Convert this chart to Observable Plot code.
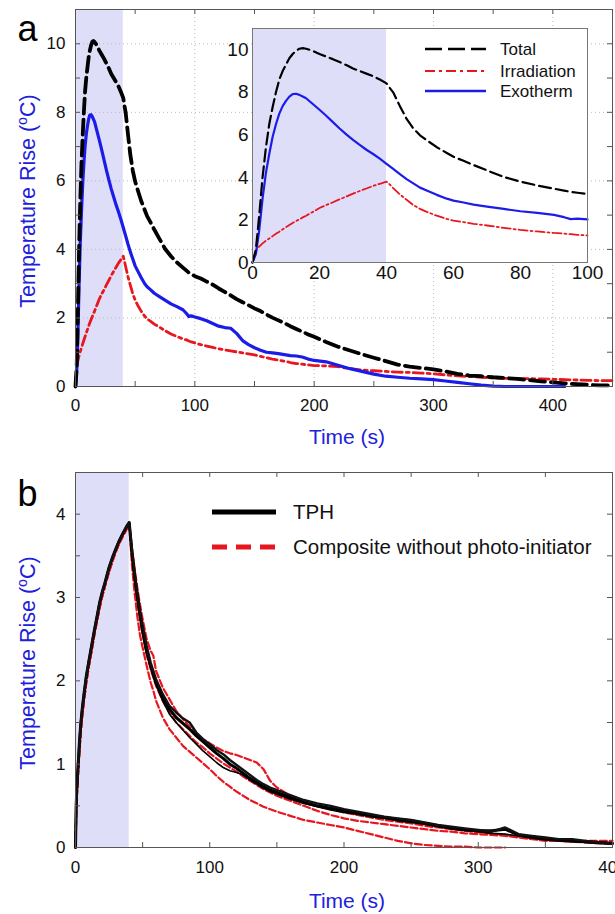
<!DOCTYPE html>
<html><head><meta charset="utf-8">
<script src="https://cdn.jsdelivr.net/npm/d3@7"></script>
<script src="https://cdn.jsdelivr.net/npm/@observablehq/plot@0.6"></script>
<style>
body{margin:0;background:#fff;}
#wrap{position:relative;width:615px;height:914px;overflow:hidden;background:#fff;}
#wrap svg{position:absolute;overflow:visible;max-width:none;}
</style></head>
<body><div id="wrap"></div>
<script>
// ---------- Panel a data ----------
const tA = [0,1,2,3,4,5,6,7,8,9,10,11,12,13,14,15,16,18,20,22,24,26,28,30,32,34,36,38,40,41,42,44,46,48,50,52,55,58,60,63,66,70,75,80,85,90,93,95,97,100,105,110,115,120,125,130,135,140,145,150,155,160,165,170,175,180,185,190,195,200,210,220,230,240,250,260,270,280,290,300,310,320,330,340,350,360,370,380,390,400,410,420,430,440,450];
const totalA = [0,0.6,2.2,4.0,5.4,6.5,7.3,8.0,8.6,9.0,9.3,9.6,9.8,9.95,10.05,10.08,10.05,
  9.95,9.8,9.68,9.56,9.42,9.28,9.12,9.0,8.88,8.76,8.6,8.42,
  8.2,8.0,7.35,6.75,6.3,5.98,5.75,5.42,5.15,4.97,4.78,4.58,4.33,4.02,3.8,3.62,3.47,3.38,3.32,3.28,3.22,
  3.15,3.06,2.97,2.86,2.76,2.66,2.55,2.46,2.37,2.28,2.2,2.1,2.01,1.93,1.85,1.76,1.68,1.6,1.52,1.45,
  1.3,1.16,1.05,0.94,0.84,0.74,0.64,0.58,0.54,0.5,0.44,0.37,0.32,0.3,0.27,0.25,0.22,0.19,0.15,0.12,0.09,0.07,0.05,0.03,0.03];
const irradA = [0,0.55,0.75,0.9,1.02,1.13,1.24,1.35,1.45,1.56,1.66,1.76,1.86,1.95,2.03,2.12,2.2,
  2.38,2.56,2.7,2.83,2.97,3.1,3.24,3.36,3.48,3.6,3.7,3.8,
  3.66,3.5,3.2,2.95,2.7,2.52,2.38,2.2,2.05,1.97,1.9,1.82,1.74,1.63,1.53,1.46,1.39,1.36,1.33,1.3,1.27,
  1.22,1.18,1.14,1.1,1.07,1.04,1.01,0.98,0.95,0.92,0.88,0.84,0.8,0.77,0.74,0.7,0.67,0.65,0.63,0.61,
  0.6,0.58,0.52,0.48,0.46,0.44,0.42,0.41,0.39,0.37,0.34,0.31,0.29,0.27,0.25,0.24,0.23,0.23,0.22,0.21,0.2,0.19,0.18,0.17,0.17];
const exoA = [0,0.4,1.5,3.0,4.2,5.1,5.9,6.5,7.0,7.35,7.6,7.8,7.92,7.93,7.88,7.8,7.72,
  7.45,7.18,6.9,6.6,6.3,6.02,5.76,5.53,5.3,5.1,4.88,4.64,
  4.52,4.4,4.15,3.92,3.72,3.52,3.38,3.18,3.0,2.91,2.82,2.72,2.63,2.52,2.41,2.33,2.24,2.13,2.04,2.06,2.03,
  1.98,1.92,1.84,1.76,1.72,1.7,1.55,1.34,1.22,1.13,1.06,1.0,0.98,0.96,0.93,0.9,0.89,0.86,0.8,0.76,
  0.72,0.62,0.52,0.44,0.36,0.3,0.27,0.24,0.22,0.2,0.16,0.12,0.08,0.04,0.01,0,0,0,0,0,0,null,null,null,null];
const seriesNamesA = ["Total","Irradiation","Exotherm"];
const irradWindow = [{x1:0, x2:40}];
const xDomainA = [0,450], yDomainA = [0,11];
const xTickA = [0,50,100,150,200,250,300,350,400,450];
const xLabelA = [0,100,200,300,400];
const yTickA = [0,1,2,3,4,5,6,7,8,9,10,11];
const yLabelA = [0,2,4,6,8,10];
const xGridA = [100,200,300,400];
const yGridA = [2,4,6,8,10];
// inset
const xDomainIn = [0,100], yDomainIn = [0,11];
const xLabelIn = [0,20,40,60,80,100];
const yLabelIn = [0,2,4,6,8,10];

// ---------- Panel b data ----------
const tRiseB = [0,0.5,1,2,3,4,5,6,8,10,12,14,16,18,20,22,25,28,30,32,35,38,40];
const tDecayB = [42,44,46,48,50,53,56,58,60,65,70,75,80,85,90,95,100,105,110,115,120,125,130,135,140,145,150,160,170,180,190,200,210,220,230,240,250,260,270,280,290,300,310,320,330,340,350,360,370,380,390,400];
const riseTPH = [0,0.5,0.72,1.0,1.28,1.5,1.66,1.8,2.05,2.24,2.42,2.6,2.77,2.94,3.07,3.18,3.36,3.5,3.58,3.66,3.76,3.85,3.9];
const riseComp = [0,0.4,0.62,0.92,1.18,1.4,1.58,1.72,1.98,2.18,2.36,2.55,2.72,2.88,3.02,3.14,3.31,3.46,3.55,3.63,3.73,3.82,3.88];
const tph1Decay = [3.55,3.26,3.02,2.8,2.6,2.35,2.18,2.08,1.98,1.8,1.66,1.56,1.49,1.42,1.34,1.27,1.2,1.13,1.07,1.0,0.95,0.89,0.83,0.78,0.73,0.69,0.66,0.6,0.54,0.5,0.47,0.44,0.41,0.38,0.36,0.34,0.32,0.29,0.26,0.23,0.21,0.2,0.2,0.22,0.15,0.12,0.1,0.09,0.08,0.07,0.06,0.05];
const tph2Decay = [3.5,3.22,2.98,2.77,2.57,2.33,2.15,2.05,1.95,1.76,1.6,1.5,1.41,1.32,1.24,1.16,1.09,1.02,0.96,0.92,0.9,0.87,0.81,0.76,0.71,0.67,0.64,0.58,0.53,0.49,0.45,0.42,0.4,0.37,0.35,0.32,0.3,0.28,0.25,0.23,0.21,0.19,0.17,0.16,0.14,0.12,0.1,0.08,0.07,0.06,0.05,0.04];
const tph3Decay = [3.58,3.3,3.06,2.85,2.66,2.42,2.22,2.12,2.02,1.84,1.7,1.62,1.55,1.5,1.38,1.3,1.24,1.17,1.12,1.05,0.99,0.93,0.87,0.81,0.76,0.72,0.69,0.63,0.57,0.53,0.5,0.46,0.43,0.4,0.37,0.35,0.33,0.3,0.27,0.25,0.23,0.21,0.19,0.24,0.16,0.14,0.12,0.1,0.1,0.08,0.06,0.05];
const comp1Decay = [3.4,3.06,2.78,2.55,2.4,2.18,1.98,1.88,1.76,1.56,1.42,1.32,1.22,1.15,1.08,1.01,0.94,0.86,0.79,0.73,0.67,0.62,0.57,0.53,0.49,0.46,0.43,0.38,0.33,0.3,0.27,0.24,0.2,0.16,0.12,0.08,0.05,0.03,0.02,0.01,0.01,0,0,0,null,null,null,null,null,null,null,null];
const comp2Decay = [3.5,3.2,2.96,2.74,2.56,2.32,2.14,2.04,1.94,1.76,1.62,1.5,1.42,1.34,1.26,1.2,1.13,1.07,1.01,0.96,0.91,0.85,0.8,0.75,0.7,0.66,0.62,0.56,0.5,0.44,0.39,0.35,0.32,0.3,0.28,0.26,0.24,0.22,0.2,0.19,0.17,0.16,0.15,0.14,0.12,0.1,0.08,0.08,0.07,0.08,0.08,0.08];
const comp3Decay = [3.6,3.35,3.12,2.92,2.74,2.5,2.36,2.3,2.12,1.92,1.78,1.64,1.54,1.45,1.37,1.3,1.25,1.2,1.16,1.13,1.11,1.08,1.05,1.02,0.94,0.8,0.72,0.62,0.55,0.5,0.46,0.42,0.39,0.36,0.33,0.31,0.29,0.26,0.24,0.22,0.2,0.18,0.17,0.15,0.13,0.11,0.09,0.08,0.07,0.06,0.05,0.05];
const seriesNamesB = ["TPH","Composite without photo-initiator"];
const xDomainB = [0,400], yDomainB = [0,4.5];
const xTickB = [0,50,100,150,200,250,300,350,400];
const xLabelB = [0,100,200,300,400];
const yTickB = [0,0.5,1,1.5,2,2.5,3,3.5,4,4.5];
const yLabelB = [0,1,2,3,4];

// ---------- styles ----------
const FONT = "'Liberation Sans', Arial, Helvetica, sans-serif";
const SHADE = "#dedef8", BLUE = "#1c1ce8", RED = "#e8161e", TITLEBLUE = "#2020dc", FRAME = "#555";
const Y_TITLE = ["Temperature Rise (", "o", "C)"];
const X_TITLE = "Time (s)";

function rows(t, v, s){ return t.map((x,i)=>({t:x, v:v[i], s})).filter(d=>d.v!=null); }
const totRows = rows(tA, totalA, seriesNamesA[0]);
const irrRows = rows(tA, irradA, seriesNamesA[1]);
const exoRows = rows(tA, exoA, seriesNamesA[2]);
const tB = tRiseB.concat(tDecayB);
const tphRows = [tph1Decay,tph2Decay,tph3Decay].map((d,i)=>rows(tB, riseTPH.concat(d), "TPH"+i));
const compRows = [comp1Decay,comp2Decay,comp3Decay].map((d,i)=>rows(tB, riseComp.concat(d), "C"+i));

function tickMarks(xt, yt, pw, ph, len){
  const o = {stroke: FRAME, strokeWidth: 1};
  return [
    Plot.ruleX(xt, {x: d=>d, insetTop: ph-len, ...o}),
    Plot.ruleX(xt, {x: d=>d, insetBottom: ph-len, ...o}),
    Plot.ruleY(yt, {y: d=>d, insetRight: pw-len, ...o}),
    Plot.ruleY(yt, {y: d=>d, insetLeft: pw-len, ...o})
  ];
}
function superscript(svg){
  const full = Y_TITLE.join("");
  svg.querySelectorAll("text").forEach(t=>{
    if (t.textContent === full) {
      const fs = parseFloat(t.getAttribute("font-size")) || 21;
      while (t.firstChild) t.removeChild(t.firstChild);
      const ns = "http://www.w3.org/2000/svg";
      const a = document.createElementNS(ns,"tspan"); a.textContent = Y_TITLE[0];
      const b = document.createElementNS(ns,"tspan"); b.textContent = Y_TITLE[1];
      b.setAttribute("font-size", (fs*0.68).toFixed(1)); b.setAttribute("dy", (-fs*0.38).toFixed(1));
      const c = document.createElementNS(ns,"tspan"); c.textContent = Y_TITLE[2];
      c.setAttribute("dy", (fs*0.38).toFixed(1));
      t.append(a,b,c);
    }
  });
}
function legend(svg, items){
  const g = d3.select(svg).append("g").attr("font-family", FONT).attr("text-anchor", "start");
  items.forEach(it=>{
    g.append("line").attr("x1", it.x1).attr("x2", it.x2).attr("y1", it.y).attr("y2", it.y)
      .attr("stroke", it.color).attr("stroke-width", it.w).attr("stroke-dasharray", it.dash || null);
    g.append("text").attr("x", it.tx).attr("y", it.y).attr("dy", "0.35em").attr("text-anchor", "start")
      .attr("font-size", it.fs).attr("fill", "#111").text(it.label);
  });
}

const wrap = document.getElementById("wrap");

// ---------- Panel a ----------
const W = 615;
const HA = 460, mA = {top:9, right:3, bottom:74, left:75};
const pwA = W - mA.left - mA.right, phA = HA - mA.top - mA.bottom;
const chartA = Plot.plot({
  width: W, height: HA, marginTop: mA.top, marginRight: mA.right, marginBottom: mA.bottom, marginLeft: mA.left,
  x: {domain: xDomainA}, y: {domain: yDomainA},
  style: {fontFamily: FONT, fontSize: "17px", color: "#111", background: "transparent"},
  marks: [
    Plot.rect(irradWindow, {x1:"x1", x2:"x2", fill: SHADE}),
    Plot.ruleX(xGridA, {x: d=>d, stroke: "#bbb", strokeDasharray: "1,3"}),
    Plot.ruleY(yGridA, {y: d=>d, stroke: "#bbb", strokeDasharray: "1,3"}),
    Plot.line(irrRows, {x:"t", y:"v", stroke: RED, strokeWidth: 2.8, strokeDasharray: "10,4,3,4"}),
    Plot.line(exoRows, {x:"t", y:"v", stroke: BLUE, strokeWidth: 3.2}),
    Plot.line(totRows, {x:"t", y:"v", stroke: "#000", strokeWidth: 3.8, strokeDasharray: "15,6"}),
    ...tickMarks(xTickA, yTickA, pwA, phA, 5),
    Plot.frame({stroke: FRAME}),
    Plot.axisX({ticks: xLabelA, tickSize: 0, tickPadding: 12, label: null, tickFormat: d=>String(d), fontSize: 17}),
    Plot.axisY({ticks: yLabelA, tickSize: 0, tickPadding: 10, label: null, tickFormat: d=>String(d), fontSize: 17}),
    Plot.text([X_TITLE], {text: d=>d, frameAnchor: "bottom", textAnchor: "middle", dy: 57, dx: 3, fill: TITLEBLUE, fontSize: 21}),
    Plot.text([Y_TITLE.join("")], {text: d=>d, frameAnchor: "left", textAnchor: "middle", dx: -47, dy: 3, rotate: -90, fill: TITLEBLUE, fontSize: 21.5}),
    Plot.text(["a"], {text: d=>d, frameAnchor: "top-left", textAnchor: "middle", dx: -48, dy: 31, lineAnchor: "bottom", fontSize: 36, fill: "#000"})
  ]
});
chartA.style.left = "0px"; chartA.style.top = "0px";
superscript(chartA);
wrap.appendChild(chartA);

// ---------- Inset ----------
const WI = 385, HI = 270, mI = {top:10, right:10, bottom:26, left:40};
const insetRows = r => r.filter(d=>d.t <= xDomainIn[1]);
const chartIn = Plot.plot({
  width: WI, height: HI, marginTop: mI.top, marginRight: mI.right, marginBottom: mI.bottom, marginLeft: mI.left,
  x: {domain: xDomainIn}, y: {domain: yDomainIn},
  style: {fontFamily: FONT, fontSize: "19px", color: "#111", background: "transparent"},
  marks: [
    Plot.frame({fill: "#fff"}),
    Plot.rect(irradWindow, {x1:"x1", x2:"x2", fill: SHADE}),
    Plot.line(insetRows(irrRows), {x:"t", y:"v", stroke: RED, strokeWidth: 1.8, strokeDasharray: "9,3,2,3"}),
    Plot.line(insetRows(exoRows), {x:"t", y:"v", stroke: BLUE, strokeWidth: 2.2}),
    Plot.line(insetRows(totRows), {x:"t", y:"v", stroke: "#000", strokeWidth: 2.2, strokeDasharray: "12,5"}),
    Plot.frame({stroke: "#777"}),
    Plot.axisX({ticks: xLabelIn, tickSize: 0, tickPadding: 3, label: null, tickFormat: d=>String(d), fontSize: 19}),
    Plot.axisY({ticks: yLabelIn, tickSize: 0, tickPadding: 4, label: null, tickFormat: d=>String(d), fontSize: 19})
  ]
});
chartIn.style.left = "212px"; chartIn.style.top = "18px";
legend(chartIn, [
  {label: seriesNamesA[0], color: "#000", w: 2.5, dash: "17,6", x1: 213, x2: 274, tx: 288, y: 31, fs: 17},
  {label: seriesNamesA[1], color: RED, w: 2.2, dash: "10,4,3,4", x1: 213, x2: 274, tx: 288, y: 53, fs: 17},
  {label: seriesNamesA[2], color: BLUE, w: 2.5, dash: null, x1: 213, x2: 274, tx: 288, y: 73, fs: 17}
]);
wrap.appendChild(chartIn);

// ---------- Panel b ----------
const HB = 454, mB = {top:12, right:3, bottom:67, left:75};
const pwB = W - mB.left - mB.right, phB = HB - mB.top - mB.bottom;
const chartB = Plot.plot({
  width: W, height: HB, marginTop: mB.top, marginRight: mB.right, marginBottom: mB.bottom, marginLeft: mB.left,
  x: {domain: xDomainB}, y: {domain: yDomainB},
  style: {fontFamily: FONT, fontSize: "17px", color: "#111", background: "transparent"},
  marks: [
    Plot.rect(irradWindow, {x1:"x1", x2:"x2", fill: SHADE}),
    ...compRows.map(r => Plot.line(r, {x:"t", y:"v", stroke: RED, strokeWidth: 2.2, strokeDasharray: "7,3"})),
    Plot.line(tphRows[1], {x:"t", y:"v", stroke: "#000", strokeWidth: 1.6}),
    Plot.line(tphRows[0], {x:"t", y:"v", stroke: "#000", strokeWidth: 3}),
    Plot.line(tphRows[2], {x:"t", y:"v", stroke: "#111", strokeWidth: 2.4}),
    ...tickMarks(xTickB, yTickB, pwB, phB, 5),
    Plot.frame({stroke: FRAME}),
    Plot.axisX({ticks: xLabelB, tickSize: 0, tickPadding: 13, label: null, tickFormat: d=>String(d), fontSize: 17}),
    Plot.axisY({ticks: yLabelB, tickSize: 0, tickPadding: 10, label: null, tickFormat: d=>String(d), fontSize: 17}),
    Plot.text([X_TITLE], {text: d=>d, frameAnchor: "bottom", textAnchor: "middle", dy: 60, dx: 3, fill: TITLEBLUE, fontSize: 21}),
    Plot.text([Y_TITLE.join("")], {text: d=>d, frameAnchor: "left", textAnchor: "middle", dx: -47, dy: 3, rotate: -90, fill: TITLEBLUE, fontSize: 21.5}),
    Plot.text(["b"], {text: d=>d, frameAnchor: "top-left", textAnchor: "middle", dx: -48, dy: 33, lineAnchor: "bottom", fontSize: 36, fill: "#000"})
  ]
});
chartB.style.left = "0px"; chartB.style.top = "460px";
superscript(chartB);
legend(chartB, [
  {label: seriesNamesB[0], color: "#000", w: 5, dash: null, x1: 212, x2: 276, tx: 293, y: 52, fs: 20.5},
  {label: seriesNamesB[1], color: RED, w: 5, dash: "15,9", x1: 212, x2: 276, tx: 293, y: 87, fs: 20.5}
]);
wrap.appendChild(chartB);
</script>
</body></html>
